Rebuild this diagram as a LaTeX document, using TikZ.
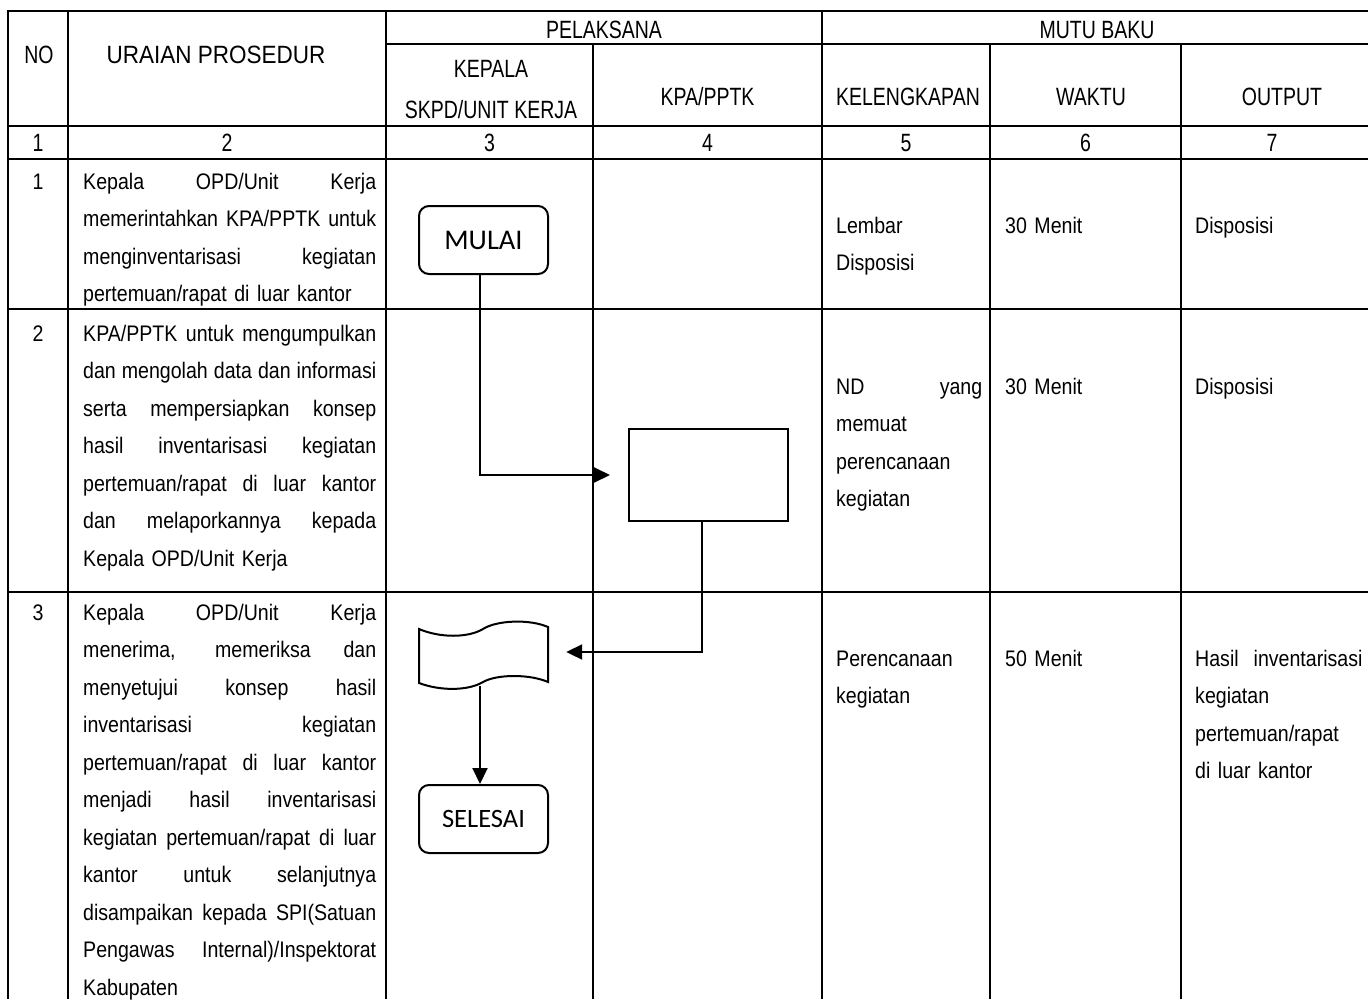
\documentclass[tikz,border=0pt]{standalone}
\usepackage{fontspec}
\setmainfont{Liberation Sans}[FakeStretch=0.87]
\newfontfamily\hfont{Liberation Sans}[FakeStretch=0.78]
\newfontfamily\wfont{Liberation Sans}[FakeStretch=0.9]
\newfontfamily\calib{Carlito}
\usetikzlibrary{arrows.meta,calc}
\newcommand\jl[2][293pt]{\makebox[#1][s]{\spaceskip=\fontdimen2\font plus 1fil\xspaceskip=\spaceskip\relax #2}}
\begin{document}
\begin{tikzpicture}[x=1pt,y=-1pt,
  grid/.style={line width=2.6pt},
  hdr/.style={font=\hfont\fontsize{25}{30}\selectfont, inner sep=0pt, anchor=base},
  whdr/.style={font=\wfont\fontsize{25}{30}\selectfont, inner sep=0pt, anchor=base},
  body/.style={font=\fontsize{22.5}{37.5}\selectfont, inner sep=0pt, anchor=base west, align=left},
  num/.style={font=\fontsize{22.5}{26}\selectfont, inner sep=0pt, anchor=base},
  term/.style={draw, line width=2pt, rounded corners=10pt, minimum width=129pt, minimum height=68pt, inner sep=0pt},
  proc/.style={draw, line width=2pt, minimum width=159pt, minimum height=92pt, inner sep=0pt},
  flow/.style={line width=2pt, -{Triangle[length=16pt,width=15pt]}},
  ]
\useasboundingbox (0,0) rectangle (1368,999);
% grid
\draw[grid] (1368,11) -- (8,11) -- (8,999);
\draw[grid] (68,11) -- (68,999);
\draw[grid] (386,11) -- (386,999);
\draw[grid] (822,11) -- (822,999);
\draw[grid] (593,44) -- (593,999);
\draw[grid] (990,44) -- (990,999);
\draw[grid] (1181,44) -- (1181,999);
\draw[grid] (386,44) -- (1368,44);
\draw[grid] (8,126) -- (1368,126);
\draw[grid] (8,159) -- (1368,159);
\draw[grid] (8,309) -- (1368,309);
\draw[grid] (8,592) -- (1368,592);
% headers
\node[hdr] (hno) at (39,63) {NO};
\node[whdr] (hur) at (216,63) {URAIAN PROSEDUR};
\node[hdr] (hpel) at (604,38) {PELAKSANA};
\node[hdr] (hmutu) at (1097,38) {MUTU BAKU};
\node[hdr] (hkep1) at (491,77) {KEPALA};
\node[hdr] (hkep2) at (491,118) {SKPD/UNIT KERJA};
\node[hdr] (hkpa) at (707.5,105) {KPA/PPTK};
\node[hdr] (hkel) at (908,105) {KELENGKAPAN};
\node[hdr] (hwak) at (1091,105) {WAKTU};
\node[hdr] (hout) at (1282,105) {OUTPUT};
\node[hdr] (n1) at (38,151) {1};
\node[hdr] (n2) at (227,151) {2};
\node[hdr] (n3) at (489.5,151) {3};
\node[hdr] (n4) at (707.5,151) {4};
\node[hdr] (n5) at (906,151) {5};
\node[hdr] (n6) at (1085.5,151) {6};
\node[hdr] (n7) at (1272,151) {7};
% row numbers
\node[num] (rn1) at (38,189) {1};
\node[num] (rn2) at (38,341) {2};
\node[num] (rn3) at (38,620) {3};
% procedure texts
\node[body, text width=293pt] (r1c2) at (83,189) {%
\jl{Kepala OPD/Unit Kerja}\\
\jl{memerintahkan KPA/PPTK untuk}\\
\jl{menginventarisasi kegiatan}\\
pertemuan/rapat di luar kantor};
\node[body, text width=293pt] (r2c2) at (83,341) {%
\jl{KPA/PPTK untuk mengumpulkan}\\
\jl{dan mengolah data dan informasi}\\
\jl{serta mempersiapkan konsep}\\
\jl{hasil inventarisasi kegiatan}\\
\jl{pertemuan/rapat di luar kantor}\\
\jl{dan melaporkannya kepada}\\
Kepala OPD/Unit Kerja};
\node[body, text width=293pt] (r3c2) at (83,620) {%
\jl{Kepala OPD/Unit Kerja}\\
\jl{menerima, memeriksa dan}\\
\jl{menyetujui konsep hasil}\\
\jl{inventarisasi kegiatan}\\
\jl{pertemuan/rapat di luar kantor}\\
\jl{menjadi hasil inventarisasi}\\
\jl{kegiatan pertemuan/rapat di luar}\\
\jl{kantor untuk selanjutnya}\\
\jl{disampaikan kepada SPI(Satuan}\\
\jl{Pengawas Internal)/Inspektorat}\\
Kabupaten};
% mutu baku texts
\node[body, text width=146pt] (r1c5) at (836,233) {Lembar\\Disposisi};
\node[body, text width=170pt] (r1c6) at (1005,233) {30 Menit};
\node[body, text width=170pt] (r1c7) at (1195,233) {Disposisi};
\node[body, text width=146pt] (r2c5) at (836,394) {\jl[146pt]{ND yang}\\memuat\\perencanaan\\kegiatan};
\node[body, text width=170pt] (r2c6) at (1005,394) {30 Menit};
\node[body, text width=170pt] (r2c7) at (1195,394) {Disposisi};
\node[body, text width=146pt] (r3c5) at (836,666) {Perencanaan\\kegiatan};
\node[body, text width=170pt] (r3c6) at (1005,666) {50 Menit};
\node[body, text width=170pt] (r3c7) at (1195,666) {Hasil\ \ inventarisasi\\kegiatan\\pertemuan/rapat\\di luar kantor};
% flowchart
\node[term, font=\calib\fontsize{28.5}{32}\selectfont] (mulai) at (483.5,240) {MULAI};
\node[proc] (kerja) at (708.5,475) {};
\draw[line width=2pt] (419,629) .. controls (440,638) and (468,638) .. (483,629)
  .. controls (497,620) and (530,619) .. (548,627) -- (548,682)
  .. controls (530,674) and (497,674) .. (483,682)
  .. controls (468,691) and (440,691) .. (419,683) -- cycle;
\node[minimum width=129pt, minimum height=55pt, inner sep=0pt] (doc) at (483.5,655.5) {};
\node[term, font=\calib\fontsize{26.5}{30}\selectfont] (selesai) at (483.5,819) {SELESAI};
\draw[flow, shorten >=18pt] ([xshift=-3.5pt]mulai.south) |- (kerja.west);
\draw[flow, shorten >=18pt] ([xshift=-6.5pt]kerja.south) |- ([yshift=3.5pt]doc.east);
\draw[flow] ([xshift=-3.5pt,yshift=-3pt]doc.south) -- ([xshift=-3.5pt]selesai.north);
\end{tikzpicture}
\end{document}
